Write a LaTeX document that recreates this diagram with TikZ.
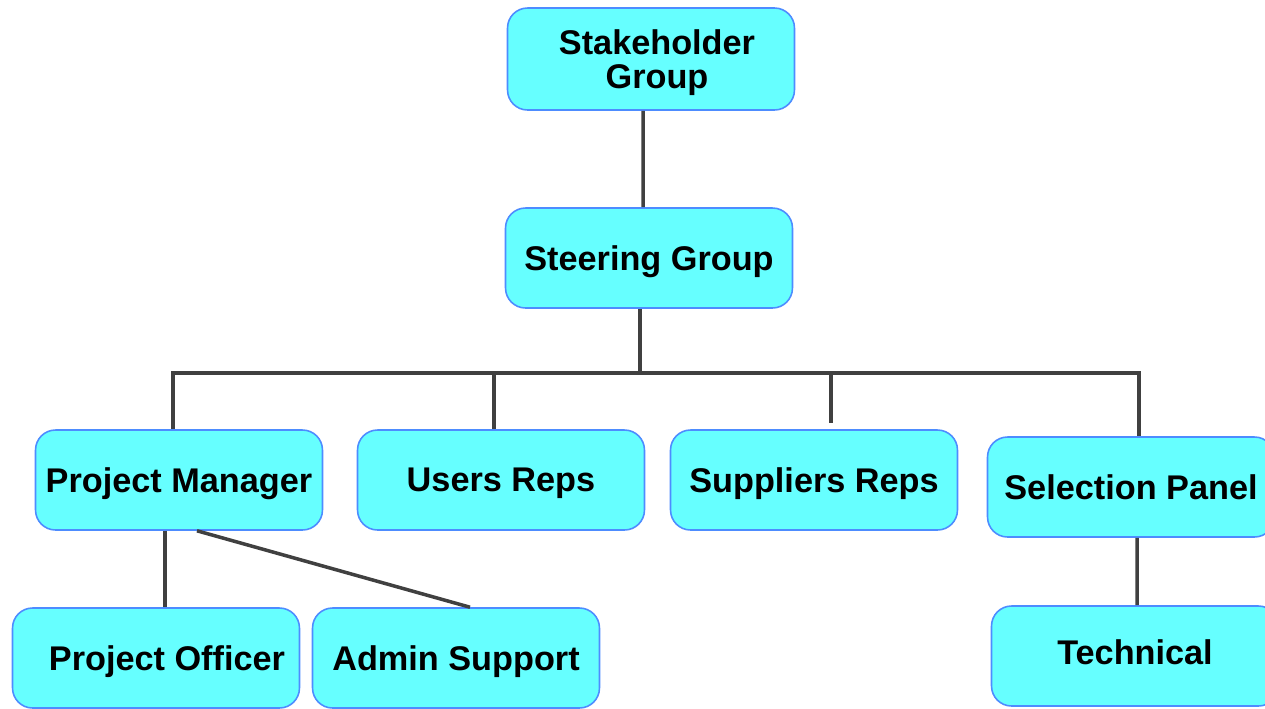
\documentclass[tikz,border=0pt]{standalone}
\usepackage{fontspec}
\setmainfont{Liberation Sans}
\usepackage{tikz}

\definecolor{boxfill}{HTML}{66FFFF}
\definecolor{boxline}{HTML}{4D8CFF}
\definecolor{linkgray}{HTML}{404040}

\tikzset{
  orgbox/.style={draw=boxline, line width=0.9pt, fill=boxfill, rounded corners=0.4cm,
    minimum width=5.74cm, minimum height=2cm, inner sep=0pt, align=center, text depth=0pt,
    font=\fontsize{19.5}{19.5}\selectfont\bfseries},
  link/.style={draw=linkgray, line width=2pt}
}

\begin{document}
\begin{tikzpicture}[x=0.02cm, y=-0.02cm]
      \useasboundingbox (0,0) rectangle (1265,708);
      \clip (0,0) rectangle (1265,708);

      % Top of the tree
      \node[orgbox, minimum height=2.04cm] (sh) at (651,59) {\hspace{0.24cm}Stakeholder\\\hspace{0.24cm}Group};
      \node[orgbox] (sg) at (649,258) {Steering Group};

      % Second row
      \node[orgbox] (pm) at (179,480) {Project Manager};
      \node[orgbox] (ur) at (501,480) {Users Reps};
      \node[orgbox] (sr) at (814,480) {Suppliers Reps};
      \node[orgbox] (sp) at (1131,487) {Selection Panel};

      % Third row
      \node[orgbox] (po) at (156,658) {\hspace{0.44cm}Project Officer};
      \node[orgbox] (as) at (456,658) {Admin Support};
      \node[orgbox] (te) at (1135,656) {\raisebox{0.14cm}{Technical}};

      % Bus under Steering Group
      \coordinate (bus) at ([xshift=-0.18cm]sg.south |- 0,373);

      % Lines
      \draw[link] ([xshift=-0.16cm]sh.south) -- ([xshift=-0.12cm]sg.north);
      \draw[link] ([xshift=-0.18cm]sg.south) -- (bus);
      \draw[link] ([xshift=-0.12cm]pm.north) |- (bus) -| ([xshift=0.16cm]sp.north);
      \draw[link] ([xshift=-0.14cm]ur.north) -- ([xshift=-0.14cm]ur.north |- bus);
      \draw[link, shorten >=0.12cm] ([xshift=0.34cm]sr.north |- bus) -- ([xshift=0.34cm]sr.north);
      \draw[link] ([xshift=0.18cm]pm.south -| po.north) -- ([xshift=0.18cm]po.north);
      \draw[link] ([xshift=0.36cm]pm.south) -- ([xshift=0.28cm]as.north);
      \draw[link] ([xshift=0.12cm]sp.south) -- ([xshift=0.04cm]te.north);
    \end{tikzpicture}
\end{document}
